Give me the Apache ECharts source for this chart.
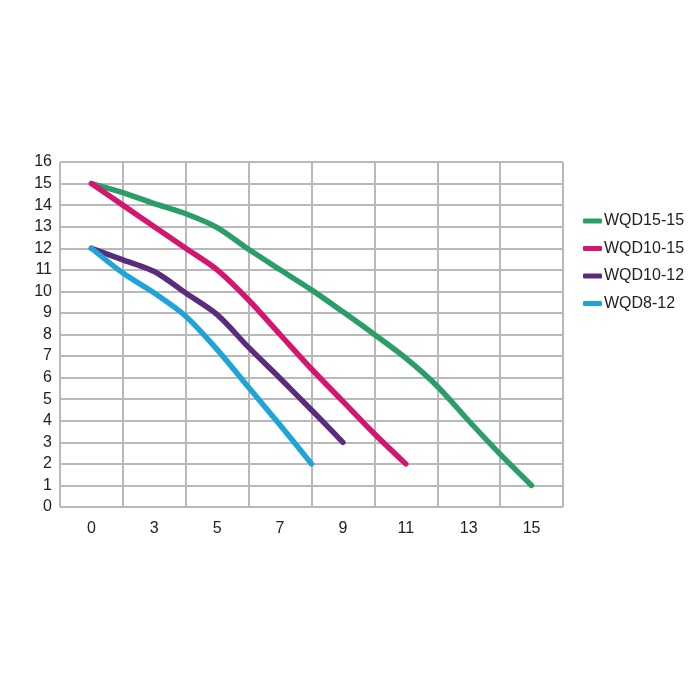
<!DOCTYPE html>
<html style="height: 100%">
<head>
  <meta charset="utf-8" />
  <title>WQD</title>
  <script src="https://cdn.jsdelivr.net/npm/echarts@6/dist/echarts.min.js"></script>
</head>
<body style="height: 100%; margin: 0; overflow: hidden; background: #fff">
  <div id="container" style="height: 700px; width: 700px"></div>
  <script>
    // x tick labels (flow), equally spaced on the axis
    var xTicks = [0, 3, 5, 7, 9, 11, 13, 15];
    var yMax = 16;

    var names = ["WQD15-15", "WQD10-15", "WQD10-12", "WQD8-12"];
    var colors = ["#2b9d66", "#d5166f", "#5b2b7e", "#1ea4d8"];

    // [flow, head]
    var wqd15_15 = [[0, 15], [1.5, 14.58], [3, 14.07], [4, 13.6], [5, 12.96], [6, 11.95], [7, 11.0], [8, 10.07], [9, 9.05], [10, 8.0], [11, 6.9], [12, 5.6], [13, 4.0], [14, 2.45], [15, 1.0]];
    var wqd10_15 = [[0, 15], [1.5, 14.0], [3, 13.0], [4, 12.0], [5, 11.0], [6, 9.6], [7, 8.0], [8, 6.4], [9, 4.9], [10, 3.4], [11, 2.0]];
    var wqd10_12 = [[0, 12], [1.5, 11.46], [3, 10.92], [4, 9.92], [5, 8.92], [6, 7.4], [7, 5.97], [8, 4.5], [9, 3.0]];
    var wqd8_12 = [[0, 12], [1.5, 10.85], [3, 9.92], [4, 8.85], [5, 7.3], [6, 5.55], [7, 3.8], [8, 2.0]];

    // the x axis is not linear (0 -> 3 takes one column, then 2 per column)
    function flowToPos(f) {
      for (var i = 1; i < xTicks.length; i++) {
        if (f <= xTicks[i]) {
          return i - 1 + (f - xTicks[i - 1]) / (xTicks[i] - xTicks[i - 1]);
        }
      }
      return xTicks.length - 1;
    }

    var font = "'Liberation Sans', Arial, sans-serif";
    var dom = document.getElementById("container");
    var myChart = echarts.init(dom, null, { renderer: "canvas" });

    var series = [wqd15_15, wqd10_15, wqd10_12, wqd8_12].map(function (d, i) {
      return {
        name: names[i],
        type: "line",
        xAxisIndex: 0,
        smooth: 0.3,
        symbol: "none",
        color: colors[i],
        lineStyle: { width: 5.5, cap: "round", join: "round" },
        data: d.map(function (p) { return [flowToPos(p[0]), p[1]]; }),
      };
    });

    var option = {
      animation: false,
      backgroundColor: "#fff",
      grid: { left: 60, right: 137, top: 162, bottom: 193 },
      legend: {
        orient: "vertical",
        left: 583,
        top: 213,
        padding: 0,
        itemWidth: 19,
        itemHeight: 5,
        itemGap: 11.5,
        icon: "roundRect",
        textStyle: { fontFamily: font, fontSize: 16, color: "#222", padding: [0, 0, 0, -3] },
        data: names,
      },
      xAxis: [
        {
          type: "value",
          min: -0.5,
          max: xTicks.length - 0.5,
          interval: 1,
          axisLine: { show: false },
          axisTick: { show: false },
          axisLabel: { show: false },
          splitLine: { show: true, lineStyle: { color: "#b9b9b9", width: 2 } },
        },
        {
          type: "category",
          position: "bottom",
          boundaryGap: true,
          data: xTicks.map(String),
          axisLine: { show: false },
          axisTick: { show: false },
          splitLine: { show: false },
          axisLabel: { margin: 14, fontFamily: font, fontSize: 16, color: "#222" },
        },
      ],
      yAxis: {
        type: "value",
        min: 0,
        max: yMax,
        interval: 1,
        axisLine: { show: false },
        axisTick: { show: false },
        axisLabel: { margin: 8, fontFamily: font, fontSize: 16, color: "#222" },
        splitLine: { show: true, lineStyle: { color: "#b9b9b9", width: 2 } },
      },
      series: series,
    };
    myChart.setOption(option);
  </script>
</body>
</html>
